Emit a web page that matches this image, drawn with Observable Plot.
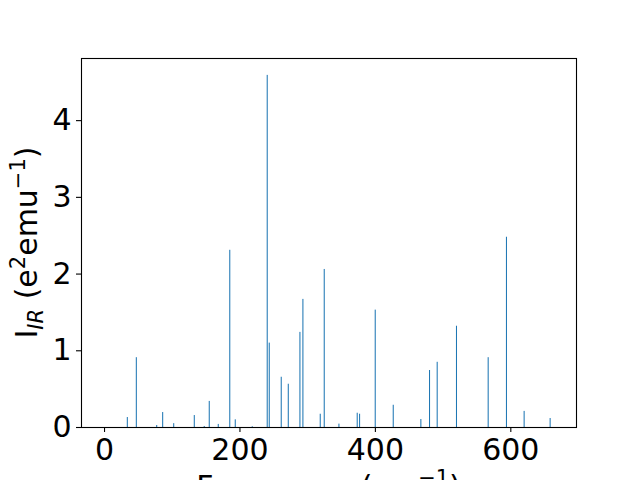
<!DOCTYPE html>
<html>
<head>
<meta charset="utf-8">
<script src="https://cdn.jsdelivr.net/npm/d3@7"></script>
<script src="https://cdn.jsdelivr.net/npm/@observablehq/plot@0.6"></script>
<style>
html, body { margin: 0; padding: 0; background: white; overflow: hidden; width: 640px; height: 480px; }
</style>
</head>
<body>
<div id="chart"></div>
<script>
// Frequencies (cm^-1) and IR intensities (e^2 emu^-1)
const frequencies = [34.4, 47.7, 77.8, 86.6, 102.9, 133.3, 148.0, 155.4, 168.7, 185.7, 193.8, 218.9,
  241.0, 244.0, 261.7, 272.1, 289.3, 293.7, 319.3, 325.2, 346.9, 373.9, 377.4, 400.5, 427.1,
  467.9, 480.7, 492.0, 520.5, 567.3, 594.3, 620.4, 658.8];
const intensities = [0.13, 0.91, 0.026, 0.195, 0.05, 0.156, 0.013, 0.34, 0.04, 2.31, 0.10, 0.01,
  4.59, 1.10, 0.655, 0.564, 1.24, 1.67, 0.173, 2.06, 0.044, 0.186, 0.173, 1.53, 0.29,
  0.104, 0.743, 0.85, 1.32, 0.91, 2.48, 0.21, 0.117];
const xTicks = [0, 200, 400, 600];
const yTicks = [0, 1, 2, 3, 4];
const barWidth = 0.8;

const data = frequencies.map((f, i) => ({f, v: intensities[i]}));

const font = "DejaVu Sans";
const plot = Plot.plot({
  width: 640,
  height: 480,
  marginLeft: 81,
  marginRight: 64,
  marginTop: 58,
  marginBottom: 53,
  style: {fontFamily: font, background: "white"},
  x: {domain: [-34, 697]},
  y: {domain: [0, 4.81]},
  marks: [
    Plot.rectY(data, {x1: d => d.f - barWidth / 2, x2: d => d.f + barWidth / 2, y1: 0, y2: "v",
      fill: "#1f77b4", insetLeft: -0.25, insetRight: -0.25}),
    Plot.axisX({ticks: xTicks, tickFormat: d => String(d), tickSize: 5, tickPadding: 6,
      fontSize: 30, label: null, stroke: "black", strokeWidth: 1.1, strokeOpacity: 1}),
    Plot.axisY({ticks: yTicks, tickFormat: d => String(d), tickSize: 5, tickPadding: 5,
      fontSize: 30, label: null, stroke: "black", strokeWidth: 1.1, strokeOpacity: 1}),
    Plot.frame({stroke: "black", strokeWidth: 1.1})
  ]
});
plot.style.overflow = "visible";
document.getElementById("chart").appendChild(plot);

const svg = d3.select(plot);
// Y label: I_IR (e^2 emu^-1)
const yl = svg.append("text")
  .attr("transform", "translate(37,242.5) rotate(-90)")
  .attr("text-anchor", "middle")
  .attr("font-family", font)
  .attr("font-size", 30)
  .attr("fill", "black");
yl.append("tspan").text("I");
yl.append("tspan").attr("font-size", 21).attr("font-style", "italic").attr("dy", 6).text("IR");
yl.append("tspan").attr("dy", -6).text(" (e");
yl.append("tspan").attr("font-size", 21).attr("dy", -12).text("2");
yl.append("tspan").attr("dy", 12).text("emu");
yl.append("tspan").attr("font-size", 21).attr("dy", -12).text("\u22121");
yl.append("tspan").attr("dy", 12).text(")");

// X label: Frequency (cm^-1)
const xl = svg.append("text")
  .attr("x", 328.5).attr("y", 497)
  .attr("text-anchor", "middle")
  .attr("font-family", font)
  .attr("font-size", 30)
  .attr("fill", "black");
xl.append("tspan").text("Frequency (cm");
xl.append("tspan").attr("font-size", 21).attr("dy", -12).text("\u22121");
xl.append("tspan").attr("dy", 12).text(")");
</script>
</body>
</html>
